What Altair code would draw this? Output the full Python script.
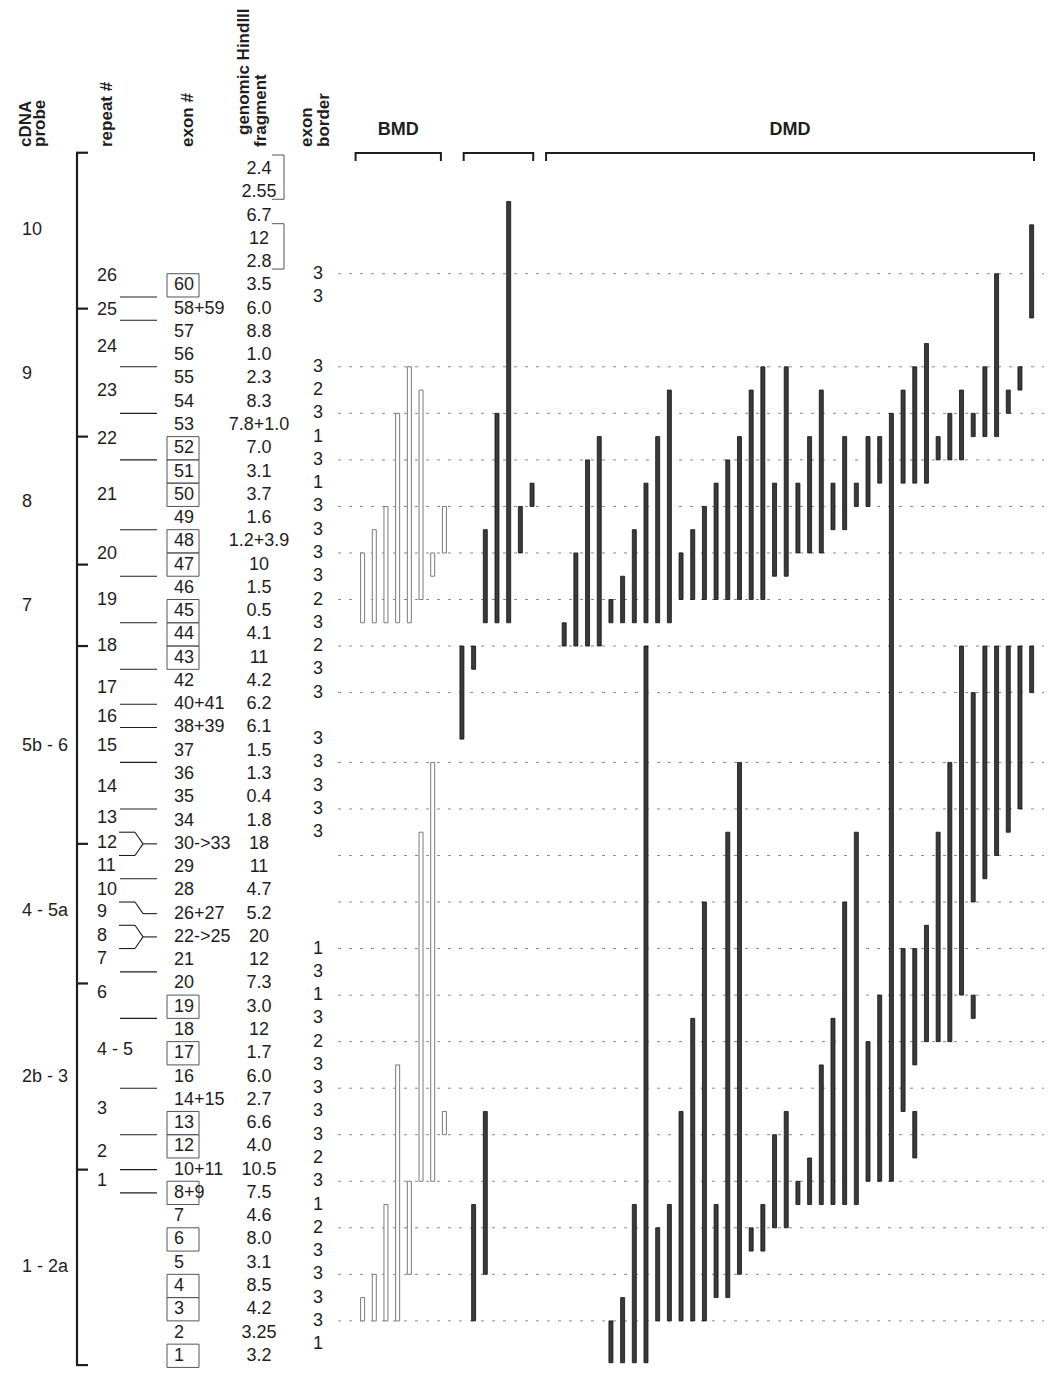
import altair as alt
import pandas as pd

# ------------------------------------------------------------------ data
# vertical unit = fragment row (row 0 = "2.4" ... row 51 = "3.2");
# x.5 values are the borders between two fragment rows
probe_names = ["10", "9", "8", "7", "5b - 6", "4 - 5a", "2b - 3", "1 - 2a"]
probe_label_row = [2.6, 8.8, 14.3, 18.8, 24.8, 31.9, 39.0, 47.2]
probe_tick_row = [-0.7, 6.0, 11.5, 17.0, 20.5, 29.0, 35.0, 43.0, 51.4]

repeat_names = ["26", "25", "24", "23", "22", "21", "20", "19", "18", "17", "16", "15",
                "14", "13", "12", "11", "10", "9", "8", "7", "6", "4 - 5", "3", "2", "1"]
repeat_row = [4.6, 6.05, 7.65, 9.55, 11.6, 14.0, 16.55, 18.5, 20.5, 22.3, 23.55, 24.8,
              26.55, 27.9, 28.95, 29.95, 31.0, 31.95, 32.95, 33.95, 35.4, 37.85, 40.4, 42.25, 43.5]
repeat_line_row = [5.5, 6.5, 8.5, 10.5, 12.5, 15.5, 17.5, 19.5, 21.5, 23.0, 24.0, 25.5,
                   27.5, 30.5, 34.5, 36.5, 39.5, 41.5, 43.0, 44.0]
repeat_join = [(28.5, 29.5, 29.0), (32.5, 33.5, 33.0)]   # two repeat borders -> one exon row
repeat_slant = [(31.5, 32.0)]

exon_first_row = 5
exon_names = ["60", "58+59", "57", "56", "55", "54", "53", "52", "51", "50", "49", "48",
              "47", "46", "45", "44", "43", "42", "40+41", "38+39", "37", "36", "35", "34",
              "30->33", "29", "28", "26+27", "22->25", "21", "20", "19", "18", "17", "16",
              "14+15", "13", "12", "10+11", "8+9", "7", "6", "5", "4", "3", "2", "1"]
exon_boxed = ["60", "52", "51", "50", "48", "47", "45", "44", "43", "19", "17", "13", "12",
              "8+9", "6", "4", "3", "1"]

fragments = ["2.4", "2.55", "6.7", "12", "2.8", "3.5", "6.0", "8.8", "1.0", "2.3", "8.3",
             "7.8+1.0", "7.0", "3.1", "3.7", "1.6", "1.2+3.9", "10", "1.5", "0.5", "4.1", "11",
             "4.2", "6.2", "6.1", "1.5", "1.3", "0.4", "1.8", "18", "11", "4.7", "5.2", "20",
             "12", "7.3", "3.0", "12", "1.7", "6.0", "2.7", "6.6", "4.0", "10.5", "7.5", "4.6",
             "8.0", "3.1", "8.5", "4.2", "3.25", "3.2"]
fragment_groups = [(-0.6, 1.3), (2.35, 4.3)]

border_row = [4.5, 5.5, 8.5, 9.5, 10.5, 11.5, 12.5, 13.5, 14.5, 15.5, 16.5, 17.5, 18.5, 19.5,
              20.5, 21.5, 22.5, 24.5, 25.5, 26.5, 27.5, 28.5, 33.5, 34.5, 35.5, 36.5, 37.5,
              38.5, 39.5, 40.5, 41.5, 42.5, 43.5, 44.5, 45.5, 46.5, 47.5, 48.5, 49.5, 50.5]
border_val = ["3", "3", "3", "2", "3", "1", "3", "1", "3", "3", "3", "3", "2", "3",
              "2", "3", "3", "3", "3", "3", "3", "3", "1", "3", "1", "3", "2",
              "3", "3", "3", "3", "2", "3", "1", "2", "3", "3", "3", "3", "1"]
dotted_row = [4.5, 8.5, 10.5, 12.5, 14.5, 16.5, 18.5, 20.5, 22.5, 25.5, 27.5, 29.5, 31.5,
              33.5, 35.5, 37.5, 39.5, 41.5, 43.5, 45.5, 47.5, 49.5]

# deleted regions per patient (top row border, bottom row border)
bmd_open = [[(16.5, 19.5), (48.5, 49.5)],
            [(15.5, 19.5), (47.5, 49.5)],
            [(14.5, 19.5), (44.5, 49.5)],
            [(10.5, 19.5), (38.5, 49.5)],
            [(8.5, 19.5), (43.5, 47.5)],
            [(9.5, 18.5), (28.5, 43.5)],
            [(16.5, 17.5), (25.5, 43.5)],
            [(14.5, 16.5), (40.5, 41.5)]]
mid_dark = [[(20.5, 24.5)],
            [(20.5, 21.5), (44.5, 49.5)],
            [(15.5, 19.5), (40.5, 47.5)],
            [(10.5, 19.5)],
            [(1.4, 19.5)],
            [(14.5, 16.5)],
            [(13.5, 14.5)]]
dmd_dark = [[(19.5, 20.5)], [(16.5, 20.5)], [(12.5, 20.5)], [(11.5, 20.5)],
            [(18.5, 19.5), (49.5, 51.3)], [(17.5, 19.5), (48.5, 51.3)],
            [(15.5, 19.5), (44.5, 51.3)], [(13.5, 19.5), (20.5, 51.3)],
            [(11.5, 19.5), (45.5, 49.5)], [(9.5, 19.5), (44.5, 49.5)],
            [(16.5, 18.5), (40.5, 49.5)], [(15.5, 18.5), (36.5, 49.5)],
            [(14.5, 18.5), (31.5, 49.5)], [(13.5, 18.5), (44.5, 48.5)],
            [(12.5, 18.5), (28.5, 48.5)], [(11.5, 18.5), (25.5, 47.5)],
            [(9.5, 18.5), (45.5, 46.5)], [(8.5, 18.5), (44.5, 46.5)],
            [(13.5, 17.5), (41.5, 45.5)], [(8.5, 17.5), (40.5, 45.5)],
            [(13.5, 16.5), (43.5, 44.5)], [(11.5, 16.5), (42.5, 44.5)],
            [(9.5, 16.5), (38.5, 44.5)], [(13.5, 15.5), (36.5, 44.5)],
            [(11.5, 15.5), (31.5, 44.5)], [(13.5, 14.5), (28.5, 44.5)],
            [(11.5, 14.5), (37.5, 43.5)], [(11.5, 13.5), (35.5, 43.5)],
            [(10.5, 43.5)],
            [(9.5, 13.5), (33.5, 40.5)], [(8.5, 13.5), (33.5, 38.5), (40.5, 42.5)],
            [(7.5, 13.5), (32.5, 37.5)], [(11.5, 12.5), (28.5, 37.5)],
            [(10.5, 12.5), (25.5, 37.5)], [(9.5, 12.5), (20.5, 35.5)],
            [(10.5, 11.5), (22.5, 31.5), (35.5, 36.5)], [(8.5, 11.5), (20.5, 30.5)],
            [(4.5, 11.5), (20.5, 29.5)], [(9.5, 10.5), (20.5, 28.5)],
            [(8.5, 9.5), (20.5, 27.5)], [(2.4, 6.4), (20.5, 22.5)]]

group_names = ["BMD", "", "DMD"]
group_start = [0.0, 8.5, 17.25]        # first patient column of each group
group_span = [(-0.6, 6.7), (8.65, 14.6), (15.7, 57.45)]

# ------------------------------------------------------------------ layout
W, H = 1036, 1361
xs = alt.Scale(domain=[-29.915, 57.88], nice=False, zero=False)
ys = alt.Scale(domain=[-6.919, 51.568], nice=False, zero=False, reverse=True)
FONT = "Liberation Sans"
INK = "#1e1e1e"


def X(f):
    return alt.X(f"{f}:Q", scale=xs, axis=None)


def Y(f):
    return alt.Y(f"{f}:Q", scale=ys, axis=None)


def bars_df(cols, start):
    rows = []
    for i, segs in enumerate(cols):
        for (t, b) in segs:
            rows.append({"c": start + i, "top": t, "bot": b})
    return pd.DataFrame(rows)


open_df = bars_df(bmd_open, group_start[0])
dark_df = pd.concat([bars_df(mid_dark, group_start[1]), bars_df(dmd_dark, group_start[2])])

layers = []

# dotted exon-border lines
layers.append(alt.Chart(pd.DataFrame({"b": dotted_row})).mark_rule(
    color="#8a8a8a", strokeWidth=1, strokeDash=[3, 8]).encode(
    y=Y("b"), x=alt.value(330), x2=alt.value(1036)))

# cDNA probe bracket
layers.append(alt.Chart(pd.DataFrame({"b": [probe_tick_row[0]], "b2": [probe_tick_row[-1]]})).mark_rule(
    color=INK, strokeWidth=2.2).encode(y=Y("b"), y2="b2:Q", x=alt.value(69)))
layers.append(alt.Chart(pd.DataFrame({"b": probe_tick_row})).mark_rule(
    color=INK, strokeWidth=2.2).encode(y=Y("b"), x=alt.value(68), x2=alt.value(80)))

# repeat connector lines
layers.append(alt.Chart(pd.DataFrame({"b": repeat_line_row})).mark_rule(
    color=INK, strokeWidth=1.1).encode(y=Y("b"), x=alt.value(112), x2=alt.value(149)))
seg = []
for (u, d, m) in repeat_join:
    seg += [(111, 127, u, u), (127, 135, u, m), (111, 127, d, d), (127, 135, d, m), (135, 149, m, m)]
for (u, m) in repeat_slant:
    seg += [(111, 127, u, u), (127, 135, u, m), (135, 149, m, m)]
for (x1, x2, y1, y2) in seg:
    layers.append(alt.Chart(pd.DataFrame({"b": [y1], "b2": [y2]})).mark_rule(
        color=INK, strokeWidth=1.1).encode(y=Y("b"), y2="b2:Q", x=alt.value(x1), x2=alt.value(x2)))

# exon boxes
box_rows = [exon_first_row + exon_names.index(e) for e in exon_boxed]
layers.append(alt.Chart(pd.DataFrame({"b": [r - 0.5 for r in box_rows],
                                      "b2": [r + 0.5 for r in box_rows]})).mark_rect(
    fill=None, stroke="#555555", strokeWidth=1).encode(
    y=Y("b"), y2="b2:Q", x=alt.value(159), x2=alt.value(191)))

# fragment brackets
for (t, b) in fragment_groups:
    d = pd.DataFrame({"b": [t], "b2": [b]})
    layers.append(alt.Chart(d).mark_rule(color="#555555", strokeWidth=1).encode(
        y=Y("b"), y2="b2:Q", x=alt.value(276)))
    layers.append(alt.Chart(pd.DataFrame({"b": [t, b]})).mark_rule(color="#555555", strokeWidth=1).encode(
        y=Y("b"), x=alt.value(264), x2=alt.value(276)))

# group brackets on top
gb = pd.DataFrame({"c1": [s[0] for s in group_span], "c2": [s[1] for s in group_span]})
layers.append(alt.Chart(gb).mark_rule(color=INK, strokeWidth=2).encode(
    x=X("c1"), x2="c2:Q", y=alt.value(145)))
gt = pd.DataFrame({"c": [v for s in group_span for v in s]})
layers.append(alt.Chart(gt).mark_rule(color=INK, strokeWidth=2).encode(
    x=X("c"), y=alt.value(144), y2=alt.value(153)))
gl = pd.DataFrame({"t": [n for n in group_names if n],
                   "c": [(s[0] + s[1]) / 2 for n, s in zip(group_names, group_span) if n]})
layers.append(alt.Chart(gl).mark_text(font=FONT, fontWeight="bold", fontSize=18, color=INK,
                                      baseline="alphabetic", align="center").encode(
    x=X("c"), y=alt.value(127), text="t:N"))

# bars (clipped to the plot area so nothing overflows the page)
layers.append(alt.Chart(open_df).mark_bar(size=4, fill="white", stroke="#7a7a7a",
                                          strokeWidth=1, clip=True).encode(
    x=X("c"), y=Y("top"), y2="bot:Q"))
layers.append(alt.Chart(dark_df).mark_bar(size=4, fill="#3a3a3a", stroke="#111111",
                                          strokeWidth=0.8, clip=True).encode(
    x=X("c"), y=Y("top"), y2="bot:Q"))

# text columns
num = dict(font=FONT, fontSize=18, color=INK, baseline="middle")
layers.append(alt.Chart(pd.DataFrame({"t": probe_names, "b": probe_label_row})).mark_text(
    align="left", **num).encode(x=alt.value(14), y=Y("b"), text="t:N"))
layers.append(alt.Chart(pd.DataFrame({"t": repeat_names, "b": repeat_row})).mark_text(
    align="left", **num).encode(x=alt.value(89), y=Y("b"), text="t:N"))
layers.append(alt.Chart(pd.DataFrame({"t": exon_names,
                                      "b": list(range(exon_first_row, exon_first_row + len(exon_names)))})
              ).mark_text(align="left", **num).encode(x=alt.value(166), y=Y("b"), text="t:N"))
layers.append(alt.Chart(pd.DataFrame({"t": fragments, "b": list(range(len(fragments)))})).mark_text(
    align="center", **num).encode(x=alt.value(251), y=Y("b"), text="t:N"))
layers.append(alt.Chart(pd.DataFrame({"t": border_val, "b": border_row})).mark_text(
    align="center", **num).encode(x=alt.value(310), y=Y("b"), text="t:N"))

# rotated column headers
headers = [("cDNA", 23, 139), ("probe", 37, 139), ("repeat #", 104, 139), ("exon #", 185, 139),
           ("genomic HindIII", 241, 127), ("fragment", 258, 139), ("exon", 304, 139),
           ("border", 321, 139)]
for (t, hx, hy) in headers:
    layers.append(alt.Chart(pd.DataFrame({"t": [t]})).mark_text(
        font=FONT, fontWeight="bold", fontSize=17, color=INK, angle=270,
        align="left", baseline="alphabetic").encode(
        x=alt.value(hx), y=alt.value(hy), text="t:N"))

chart = alt.layer(*layers).properties(
    width=W, height=H, padding=0, autosize=alt.AutoSizeParams(type="none"),
    background="white"
).configure_view(stroke=None)

chart.save("out.html", embed_options={"renderer": "svg", "actions": False})
